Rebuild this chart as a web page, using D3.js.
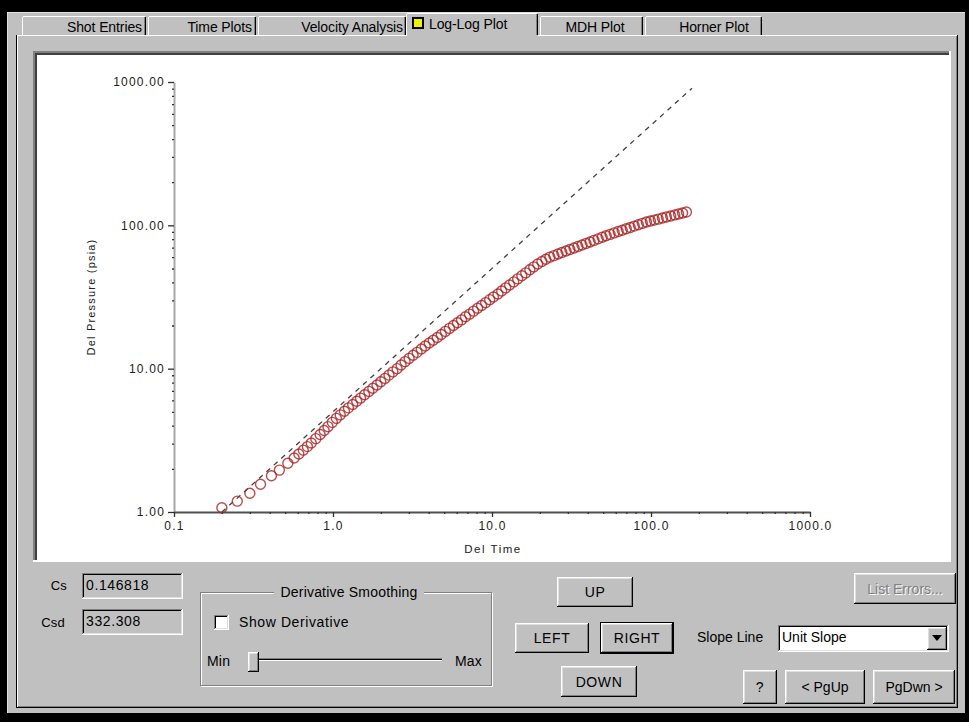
<!DOCTYPE html>
<html>
<head>
<meta charset="utf-8">
<script src="https://cdn.jsdelivr.net/npm/d3@7"></script>
<style>
  body { margin: 0; background: #000; }
  svg { display: block; font-family: "Liberation Sans", Arial, sans-serif; }
</style>
</head>
<body>
<svg id="win" width="969" height="722"></svg>
<script>
// Pressure build-up readings: elapsed time (hr) and pressure change (psia)
const delTime = [
  0.20, 0.25, 0.30, 0.35, 0.41, 0.46, 0.52, 0.57, 0.61, 0.65,
  0.69, 0.73, 0.78, 0.83, 0.88, 0.93, 0.99, 1.05, 1.11, 1.18,
  1.25, 1.33, 1.41, 1.49, 1.58, 1.68, 1.78, 1.89, 2.00, 2.12,
  2.25, 2.38, 2.53, 2.68, 2.84, 3.01, 3.19, 3.38, 3.59, 3.80,
  4.03, 4.27, 4.53, 4.80, 5.09, 5.40, 5.72, 6.06, 6.43, 6.81,
  7.22, 7.66, 8.12, 8.60, 9.12, 9.67, 10.2, 10.9, 11.5, 12.2,
  12.9, 13.7, 14.5, 15.4, 16.3, 17.3, 18.3, 19.4, 20.6, 21.8,
  23.1, 24.5, 26.0, 27.5, 29.2, 30.9, 32.8, 34.7, 36.8, 39.0,
  41.4, 43.8, 46.5, 49.3, 52.2, 55.3, 58.7, 62.2, 65.9, 69.9,
  74.0, 78.5, 83.2, 88.2, 93.5, 99.1, 105, 111, 118, 125,
  133, 141, 149, 158, 167
];
const delPressure = [
  1.07, 1.19, 1.35, 1.56, 1.79, 1.96, 2.19, 2.38, 2.54, 2.70,
  2.86, 3.03, 3.25, 3.47, 3.70, 3.94, 4.22, 4.50, 4.76, 5.05,
  5.33, 5.63, 5.93, 6.23, 6.57, 6.94, 7.30, 7.70, 8.10, 8.55,
  9.02, 9.50, 10.0, 10.6, 11.2, 11.8, 12.4, 13.0, 13.7, 14.4,
  15.1, 15.8, 16.5, 17.3, 18.2, 19.1, 20.0, 20.9, 21.9, 23.0,
  24.0, 25.2, 26.4, 27.6, 28.9, 30.3, 31.6, 33.2, 34.8, 36.6,
  38.3, 40.3, 42.3, 44.5, 46.6, 49.0, 51.3, 53.7, 56.0, 58.0,
  60.0, 61.5, 63.1, 64.6, 66.2, 67.8, 69.5, 71.2, 72.9, 74.7,
  76.6, 78.5, 80.5, 82.5, 84.5, 86.5, 88.6, 90.5, 92.5, 94.6,
  96.6, 98.8, 100.9, 103.2, 105.5, 107.1, 108.8, 110.5, 112.4, 114.3,
  116.3, 118.2, 120.0, 122.0, 123.9
];

// Unit-slope reference line p = k * t
const slopeStart = 0.2;
const slopeEnd = 181;
const slopeCoef = 5.0;

// Axis ticks
const xTickValues = [0.1, 1, 10, 100, 1000];
const xTickLabels = ["0.1", "1.0", "10.0", "100.0", "1000.0"];
const yTickValues = [1, 10, 100, 1000];
const yTickLabels = ["1.00", "10.00", "100.00", "1000.00"];

// Dialog contents
const tabNames = ["Shot Entries", "Time Plots", "Velocity Analysis", "Log-Log Plot", "MDH Plot", "Horner Plot"];
const csValue = "0.146818";
const csdValue = "332.308";
const slopeChoice = "Unit Slope";

const svg = d3.select("#win");
const FACE = "#c0c0c0";
const UI = 14;

function px(g, x, y, w, h, c) {
  g.append("rect").attr("x", x).attr("y", y).attr("width", w).attr("height", h).attr("fill", c);
}
function raised(g, x, y, w, h, face = FACE) {
  px(g, x, y, w, h, face);
  px(g, x, y, w, 1, "#fff"); px(g, x, y, 1, h, "#fff");
  px(g, x + 1, y + 1, w - 2, 1, "#dfdfdf"); px(g, x + 1, y + 1, 1, h - 2, "#dfdfdf");
  px(g, x, y + h - 1, w, 1, "#000"); px(g, x + w - 1, y, 1, h, "#000");
  px(g, x + 1, y + h - 2, w - 2, 1, "#808080"); px(g, x + w - 2, y + 1, 1, h - 2, "#808080");
}
function sunken(g, x, y, w, h, face) {
  px(g, x, y, w, h, face);
  px(g, x, y, w, 1, "#808080"); px(g, x, y, 1, h, "#808080");
  px(g, x + 1, y + 1, w - 2, 1, "#000"); px(g, x + 1, y + 1, 1, h - 2, "#000");
  px(g, x, y + h - 1, w, 1, "#fff"); px(g, x + w - 1, y, 1, h, "#fff");
  px(g, x + 1, y + h - 2, w - 2, 1, "#dfdfdf"); px(g, x + w - 2, y + 1, 1, h - 2, "#dfdfdf");
}
function label(g, x, y, t, opts = {}) {
  return g.append("text").attr("x", x).attr("y", y).text(t)
    .attr("font-size", opts.size || UI)
    .attr("fill", opts.fill || "#000")
    .attr("text-anchor", opts.anchor || "start")
    .attr("letter-spacing", opts.ls != null ? opts.ls : 0.2);
}
function button(g, x, y, w, h, t, opts = {}) {
  if (opts.isDefault) px(g, x - 1, y - 1, w + 2, h + 2, "#000");
  raised(g, x, y, w, h);
  const cy = y + h / 2 + 5;
  if (opts.disabled) {
    label(g, x + w / 2 + 1, cy + 1, t, { anchor: "middle", fill: "#fff", ls: 0 });
    label(g, x + w / 2, cy, t, { anchor: "middle", fill: "#808080", ls: 0 });
  } else {
    label(g, x + w / 2, cy, t, { anchor: "middle", ls: opts.ls != null ? opts.ls : 0.6 });
  }
}

// ---- window frame ----
const frame = svg.append("g");
px(frame, 0, 0, 969, 722, "#000");
px(frame, 7, 12, 958, 701, FACE);
px(frame, 7, 12, 958, 1, "#dfdfdf");
px(frame, 7, 12, 1, 701, "#dfdfdf");

// ---- tab control ----
const tabs = svg.append("g");
px(tabs, 17, 35, 941, 673, FACE);
px(tabs, 17, 35, 941, 1, "#fff");
px(tabs, 17, 35, 1, 673, "#fff");
px(tabs, 16, 35, 1, 673, "#000");
px(tabs, 957, 35, 1, 673, "#000");
px(tabs, 956, 36, 1, 671, "#808080");
px(tabs, 17, 707, 941, 1, "#000");
px(tabs, 18, 706, 938, 1, "#808080");

const tabSpans = [[22, 146], [148, 256], [258, 406], [406, 538], [540, 643], [645, 762]];
tabSpans.forEach((s, i) => {
  if (i === 3) return;
  const [x0, x1] = s;
  px(tabs, x0, 16, x1 - x0, 19, FACE);
  px(tabs, x0 + 1, 16, x1 - x0 - 2, 1, "#fff");
  px(tabs, x0, 17, 1, 18, "#fff");
  px(tabs, x1 - 1, 17, 1, 18, "#000");
  px(tabs, x1 - 2, 17, 1, 18, "#808080");
});
{
  const [x0, x1] = tabSpans[3];
  px(tabs, x0, 13, x1 - x0, 24, FACE);
  px(tabs, x0 + 1, 13, x1 - x0 - 2, 1, "#fff");
  px(tabs, x0, 14, 1, 22, "#fff");
  px(tabs, x1 - 1, 14, 1, 21, "#000");
  px(tabs, x1 - 2, 14, 1, 21, "#808080");
  px(tabs, 412, 17, 12, 12, "#000");
  px(tabs, 414, 19, 8, 8, "#f0f000");
}
const tabTextPos = [
  { x: 142, a: "end" }, { x: 252, a: "end" }, { x: 403, a: "end" },
  { x: 429, a: "start" }, { x: 595, a: "middle" }, { x: 714, a: "middle" }
];
tabNames.forEach((n, i) => {
  label(tabs, tabTextPos[i].x, i === 3 ? 29 : 32, n, { anchor: tabTextPos[i].a, ls: -0.1 });
});

// ---- plot area ----
const plotBox = svg.append("g");
px(plotBox, 33, 51, 918, 511, "#808080");
px(plotBox, 35, 53, 916, 509, "#404040");
px(plotBox, 33, 560, 918, 2, "#fff");
px(plotBox, 949, 51, 2, 511, "#fff");
px(plotBox, 37, 55, 912, 505, "#fff");

const x = d3.scaleLog().domain([0.1, 1000]).range([174, 810]);
const y = d3.scaleLog().domain([1, 1000]).range([512, 82]);

function logTicks(lo, hi) {
  const out = [];
  for (let d = lo; d < hi; d *= 10) for (let k = 1; k < 10; k++) out.push(+(d * k).toPrecision(3));
  out.push(hi);
  return out;
}
const isMajor = v => Math.abs(Math.log10(v) - Math.round(Math.log10(v))) < 1e-6;

const plot = svg.append("g");

// y axis
const yAxis = d3.axisLeft(y)
  .tickValues(logTicks(1, 1000))
  .tickSize(0)
  .tickPadding(9)
  .tickFormat(v => { const i = yTickValues.indexOf(v); return i >= 0 ? yTickLabels[i] : ""; });
const gy = plot.append("g").attr("transform", "translate(174,0)").call(yAxis);
gy.select(".domain").attr("stroke", "#a8a8a8").attr("stroke-width", 2);
gy.selectAll(".tick line")
  .attr("x2", d => isMajor(d) ? -6 : -2)
  .attr("stroke", "#303030").attr("stroke-width", 1.3);
gy.selectAll(".tick text").attr("font-size", 12).attr("fill", "#222")
  .attr("letter-spacing", 1.2)
  .attr("font-family", "Liberation Sans, Arial, sans-serif");

// x axis
const xAxis = d3.axisBottom(x)
  .tickValues(logTicks(0.1, 1000))
  .tickSize(0)
  .tickPadding(9)
  .tickFormat(v => { const i = xTickValues.findIndex(t => Math.abs(t - v) < 1e-9); return i >= 0 ? xTickLabels[i] : ""; });
const gx = plot.append("g").attr("transform", "translate(0,512)").call(xAxis);
gx.select(".domain").attr("stroke", "#505050").attr("stroke-width", 2);
gx.selectAll(".tick line")
  .attr("y2", d => isMajor(d) ? 5 : 2)
  .attr("stroke", "#303030").attr("stroke-width", 1.3);
gx.selectAll(".tick text").attr("font-size", 12).attr("fill", "#222")
  .attr("letter-spacing", 1.2)
  .attr("font-family", "Liberation Sans, Arial, sans-serif");

// axis titles
label(plot, 493, 553, "Del Time", { size: 11.5, anchor: "middle", ls: 1.5, fill: "#202020" });
label(plot, 0, 0, "Del Pressure (psia)", { size: 11, anchor: "middle", ls: 1.2, fill: "#202020" })
  .attr("transform", "translate(95,297) rotate(-90)");

// unit slope line
plot.append("line")
  .attr("x1", x(slopeStart)).attr("y1", y(slopeStart * slopeCoef))
  .attr("x2", x(slopeEnd)).attr("y2", y(slopeEnd * slopeCoef))
  .attr("stroke", "#404040").attr("stroke-width", 1.3)
  .attr("stroke-dasharray", "5,5");

// measured points
const pts = delTime.map((t, i) => ({ t, p: delPressure[i] }));
plot.append("g").selectAll("circle").data(pts).join("circle")
  .attr("cx", d => x(d.t)).attr("cy", d => y(d.p)).attr("r", 5)
  .attr("fill", "none").attr("stroke", "#a82020").attr("stroke-width", 1.4)
  .attr("stroke-opacity", 0.8);

// ---- controls ----
const ctl = svg.append("g");
label(ctl, 67, 590, "Cs", { anchor: "end", size: 13 });
sunken(ctl, 82, 573, 101, 26, FACE);
label(ctl, 86, 590, csValue, { ls: 0.6 });
label(ctl, 65, 627, "Csd", { anchor: "end", size: 13 });
sunken(ctl, 82, 609, 101, 26, FACE);
label(ctl, 86, 626, csdValue, { ls: 0.6 });

// group box
const gb = ctl.append("g");
gb.append("rect").attr("x", 201.5).attr("y", 593.5).attr("width", 291).attr("height", 93)
  .attr("fill", "none").attr("stroke", "#fff");
gb.append("rect").attr("x", 200.5).attr("y", 592.5).attr("width", 291).attr("height", 93)
  .attr("fill", "none").attr("stroke", "#808080");
px(gb, 274, 586, 150, 12, FACE);
label(gb, 349, 597, "Derivative Smoothing", { anchor: "middle", ls: 0.2 });

sunken(ctl, 214, 615, 15, 15, "#fff");
label(ctl, 239, 627, "Show Derivative", { ls: 0.6 });

label(ctl, 207, 666, "Min");
px(ctl, 258, 658, 184, 1, "#808080");
px(ctl, 258, 659, 184, 1, "#000");
px(ctl, 258, 660, 184, 1, "#fff");
raised(ctl, 248, 652, 11, 20);
label(ctl, 455, 666, "Max");

button(ctl, 557, 577, 76, 30, "UP");
button(ctl, 515, 623, 74, 30, "LEFT");
button(ctl, 601, 623, 72, 30, "RIGHT", { isDefault: true });
button(ctl, 561, 666, 76, 31, "DOWN");
button(ctl, 854, 573, 102, 31, "List Errors...", { disabled: true });

label(ctl, 697, 642, "Slope Line", { ls: 0 });
sunken(ctl, 778, 625, 171, 27, "#fff");
label(ctl, 782, 642, slopeChoice, { ls: 0 });
raised(ctl, 927, 627, 20, 23);
ctl.append("path").attr("d", "M932,635 L942,635 L937,641 Z").attr("fill", "#000");

button(ctl, 743, 670, 34, 34, "?");
button(ctl, 785, 670, 80, 34, "< PgUp", { ls: 0 });
button(ctl, 873, 670, 82, 34, "PgDwn >", { ls: 0 });
</script>
</body>
</html>
